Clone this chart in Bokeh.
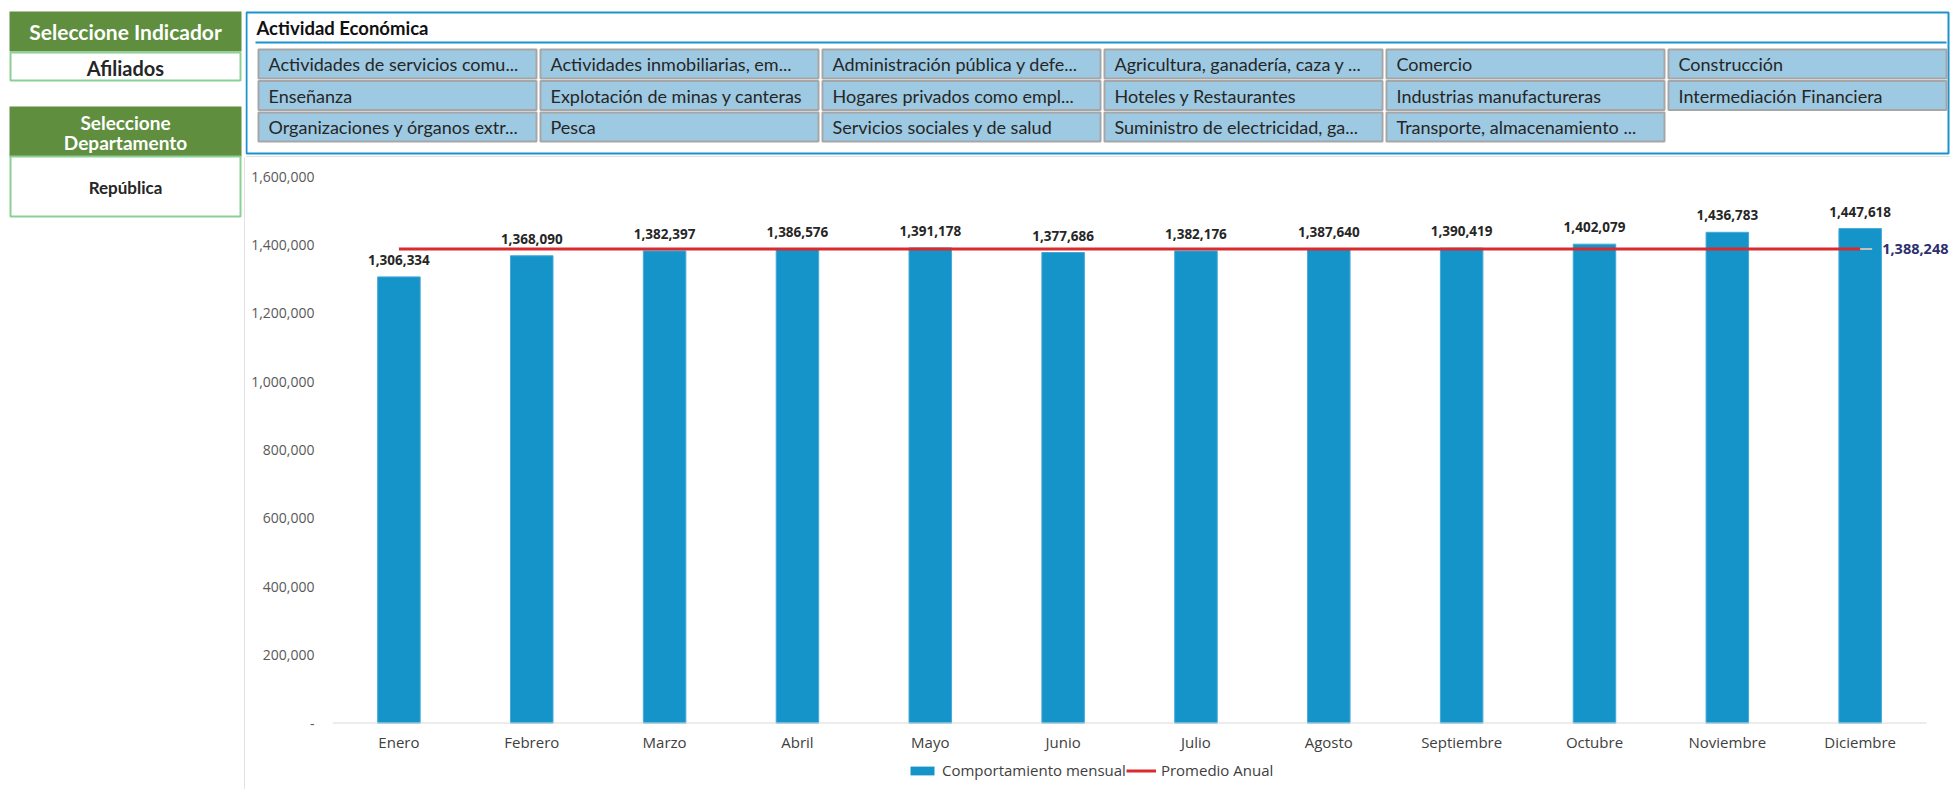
from bokeh.plotting import figure
from bokeh.layouts import row, column
from bokeh.models import (Range1d, FixedTicker, NumeralTickFormatter, Legend,
                          LegendItem, ColumnDataSource)
from bokeh.core.properties import value
from bokeh.embed import file_html
from bokeh.resources import INLINE

# ---------------- data ----------------
meses = ["Enero", "Febrero", "Marzo", "Abril", "Mayo", "Junio", "Julio",
         "Agosto", "Septiembre", "Octubre", "Noviembre", "Diciembre"]
afiliados = [1306334, 1368090, 1382397, 1386576, 1391178, 1377686, 1382176,
             1387640, 1390419, 1402079, 1436783, 1447618]
promedio_anual = 1388248
y_ticks = [0, 200000, 400000, 600000, 800000, 1000000, 1200000, 1400000, 1600000]
serie_barras = "Comportamiento mensual"
serie_linea = "Promedio Anual"

indicador_titulo = "Seleccione Indicador"
indicador = "Afiliados"
depto_titulo = ["Seleccione", "Departamento"]
departamento = "República"
slicer_titulo = "Actividad Económica"
actividades = [
    "Actividades de servicios comu...", "Actividades inmobiliarias, em...",
    "Administración pública y defe...", "Agricultura, ganadería, caza y ...",
    "Comercio", "Construcción",
    "Enseñanza", "Explotación de minas y canteras",
    "Hogares privados como empl...", "Hoteles y Restaurantes",
    "Industrias manufactureras", "Intermediación Financiera",
    "Organizaciones y órganos extr...", "Pesca",
    "Servicios sociales y de salud", "Suministro de electricidad, ga...",
    "Transporte, almacenamiento ...",
]

GREEN = "#5E8E3E"
LGREEN = "#8CCF94"
BLUE = "#1B93CF"
BAR = "#1494C9"
RED = "#D92B2F"
SLICER_FILL = "#9DC9E2"

W_LEFT = 245
W_RIGHT = 1705
H_TOTAL = 789
H_TOP = 157
H_LEG = 29
H_CHART = H_TOTAL - H_TOP - H_LEG


def blank(w, h, xr, yr):
    f = figure(width=w, height=h, x_range=xr, y_range=yr, output_backend="svg",
               toolbar_location=None, x_axis_type=None, y_axis_type=None,
               min_border=0, frame_align=False)
    f.outline_line_color = None
    f.grid.visible = False
    f.background_fill_color = "white"
    f.border_fill_color = "white"
    return f


# ---------------- left panel ----------------
L = blank(W_LEFT, H_TOTAL, Range1d(0, W_LEFT), Range1d(H_TOTAL, 0))
L.quad(left=[9, 9], right=[241, 241], top=[11, 106], bottom=[51, 156],
       fill_color=GREEN, line_color=None)
L.quad(left=[10, 10], right=[240, 240], top=[52, 156], bottom=[80, 216],
       fill_color="white", line_color=LGREEN, line_width=2)
L.segment(x0=[244.5], x1=[244.5], y0=[157], y1=[H_TOTAL], line_color="#D9D9D9",
          line_width=1.5)
L.text(x=[125], y=[31], text=[indicador_titulo], text_font=value("Lato"),
       text_font_style="bold", text_font_size="21px", text_color="white",
       text_align="center", text_baseline="middle")
L.text(x=[125], y=[67], text=[indicador], text_font=value("Lato"),
       text_font_style="bold", text_font_size="20px", text_color="#262626",
       text_align="center", text_baseline="middle")
L.text(x=[125, 125], y=[122, 142], text=depto_titulo, text_font=value("Lato"),
       text_font_style="bold", text_font_size="19px", text_color="white",
       text_align="center", text_baseline="middle")
L.text(x=[125], y=[187], text=[departamento], text_font=value("Lato"),
       text_font_style="bold", text_font_size="17px", text_color="#262626",
       text_align="center", text_baseline="middle")

# ---------------- slicer panel ----------------
X_END = W_LEFT + W_RIGHT
T = blank(W_RIGHT, H_TOP, Range1d(W_LEFT, X_END), Range1d(H_TOP, 0))
T.quad(left=[246], right=[1948], top=[12], bottom=[153], fill_alpha=0,
       line_color=BLUE, line_width=2)
T.segment(x0=[255], x1=[1946], y0=[42], y1=[42], line_color=BLUE, line_width=2)
T.segment(x0=[W_LEFT], x1=[X_END], y0=[156.5], y1=[156.5], line_color="#D9D9D9",
          line_width=1.5)
T.text(x=[256], y=[27], text=[slicer_titulo], text_font=value("Lato"),
       text_font_style="bold", text_font_size="18.5px", text_color="#111111",
       text_baseline="middle")

ncol = 6
bx0, bstride, bw = 258, 282, 278
by0, rstride, bh = 49, 31.5, 29
lefts, tops = [], []
for i, _ in enumerate(actividades):
    lefts.append(bx0 + (i % ncol) * bstride)
    tops.append(by0 + (i // ncol) * rstride)
bsrc = ColumnDataSource(dict(
    left=lefts, right=[l + bw for l in lefts], top=tops,
    bottom=[t + bh for t in tops], tx=[l + 10 for l in lefts],
    ty=[t + bh / 2 for t in tops], name=actividades))
T.quad(left="left", right="right", top="top", bottom="bottom", source=bsrc,
       fill_color=SLICER_FILL, line_color="#A6A6A6", line_width=2)
T.text(x="tx", y="ty", text="name", source=bsrc, text_font=value("Lato"),
       text_font_size="18px", text_color="#262626", text_baseline="middle")

# ---------------- chart ----------------
n = len(meses)
idx = list(range(n))
C = figure(width=W_RIGHT, height=H_CHART, output_backend="svg",
           toolbar_location=None, frame_align=False,
           x_range=Range1d(-0.5, 11.68), y_range=Range1d(0, 1600000),
           min_border_left=87, min_border_right=0, min_border_top=19,
           min_border_bottom=37)
C.outline_line_color = None
C.grid.visible = False
C.background_fill_color = "white"
C.border_fill_color = "white"

src = ColumnDataSource(dict(x=idx, mes=meses, v=afiliados,
                            lbl=[f"{v:,}" for v in afiliados]))
line_style = dict(line_color=RED, line_width=3)
C.vbar(x="x", top="v", width=0.32, source=src, fill_color=BAR,
       line_color="#45A9D8", line_width=1)
C.segment(x0=[-0.5], x1=[n - 0.5], y0=[0], y1=[0], line_color="#D9D9D9", line_width=2)
C.line(x=[idx[0], idx[-1]], y=[promedio_anual, promedio_anual], **line_style)
C.ray(x=[idx[-1]], y=[promedio_anual], length=12, angle=0, length_units="screen",
      line_color="#BFBFBF", line_width=2)
C.text(x=[idx[-1]], y=[promedio_anual], text=[f"{promedio_anual:,}"], x_offset=22,
       text_align="left", text_baseline="middle", text_font=value("Open Sans"),
       text_font_style="bold", text_font_size="14.5px", text_color="#2E2F6E")
C.text(x="x", y="v", text="lbl", source=src, y_offset=-17, text_align="center",
       text_baseline="middle", text_font=value("Open Sans"),
       text_font_style="bold", text_font_size="13.5px", text_color="#262626")

xa = C.xaxis[0]
xa.ticker = FixedTicker(ticks=idx)
xa.major_label_overrides = {i: m for i, m in enumerate(meses)}
xa.axis_line_color = None
xa.major_tick_line_color = None
xa.minor_tick_line_color = None
xa.major_tick_out = 0
xa.major_tick_in = 0
xa.major_label_standoff = 8
xa.major_label_text_font = "Open Sans"
xa.major_label_text_font_size = "15px"
xa.major_label_text_color = "#404040"

ya = C.yaxis[0]
ya.ticker = FixedTicker(ticks=y_ticks)
ya.formatter = NumeralTickFormatter(format="0,0")
ya.major_label_overrides = {0: "-"}
ya.axis_line_color = None
ya.major_tick_line_color = None
ya.minor_tick_line_color = None
ya.major_tick_out = 0
ya.major_tick_in = 0
ya.major_label_standoff = 18
ya.major_label_text_font = "Open Sans"
ya.major_label_text_font_size = "14px"
ya.major_label_text_color = "#595959"

# ---------------- legend strip ----------------
# zero-size proxy renderers that only carry the legend glyph styles
G = blank(W_RIGHT, H_LEG, Range1d(W_LEFT, X_END), Range1d(H_LEG, 0))
leg_bar = G.vbar(x=[0], top=[0], bottom=[0], width=0, fill_color=BAR, line_color=None)
leg_line = G.line(x=[0, 0], y=[0, 0], **line_style)
legend = Legend(items=[LegendItem(label=serie_barras, renderers=[leg_bar]),
                       LegendItem(label=serie_linea, renderers=[leg_line])],
                orientation="horizontal", location=(662, 9), glyph_width=30,
                glyph_height=11, label_height=16, label_standoff=5, spacing=0,
                padding=0, margin=0, border_line_color=None,
                background_fill_alpha=0, label_text_font="Open Sans",
                label_text_font_size="15px", label_text_color="#404040")
G.add_layout(legend)

layout = row(L, column(T, C, G))
open("out.html", "w").write(file_html(layout, INLINE))
